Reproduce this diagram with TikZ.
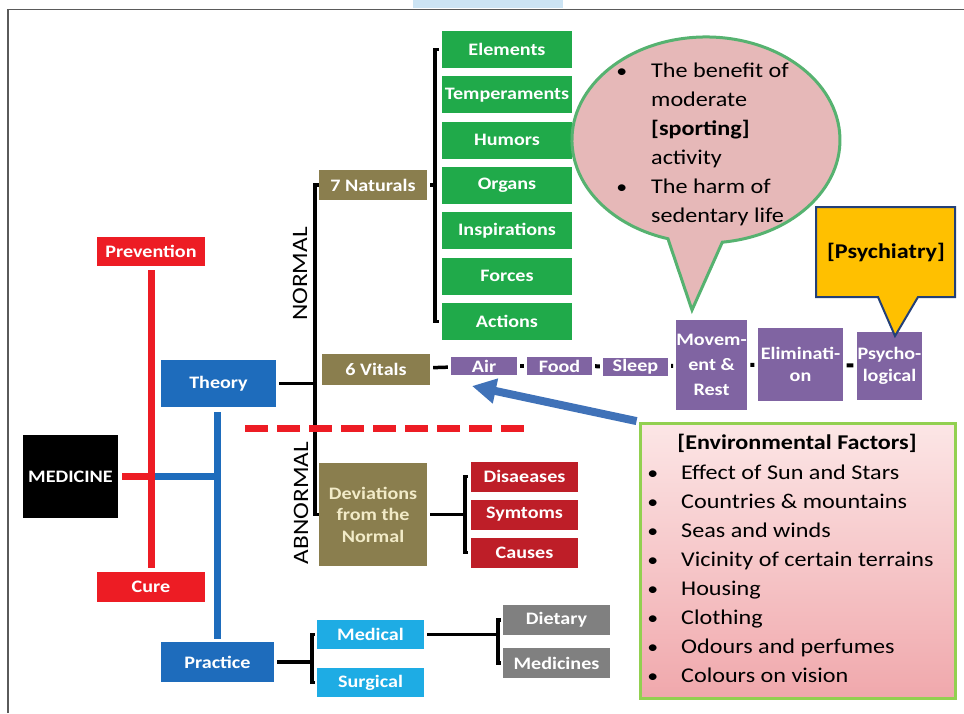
\documentclass[tikz,border=0pt]{standalone}
\usepackage{fontspec}
\setmainfont{Carlito}[FakeStretch=1.15]
\usetikzlibrary{arrows.meta}

\definecolor{medred}{RGB}{237,28,36}
\definecolor{medblue}{RGB}{30,108,188}
\definecolor{natbrown}{RGB}{138,126,78}
\definecolor{natgreen}{RGB}{32,170,74}
\definecolor{darkred}{RGB}{190,30,40}
\definecolor{skyblue}{RGB}{30,172,228}
\definecolor{boxgray}{RGB}{128,128,128}
\definecolor{vitpurple}{RGB}{128,100,162}
\definecolor{bubblepink}{RGB}{230,184,184}
\definecolor{bubblegreen}{RGB}{86,178,112}
\definecolor{psyyellow}{RGB}{255,192,0}
\definecolor{psyblue}{RGB}{35,64,120}
\definecolor{envtop}{RGB}{252,230,230}
\definecolor{envbottom}{RGB}{240,168,172}
\definecolor{envgreen}{RGB}{146,208,80}
\definecolor{arrowblue}{RGB}{64,114,184}
\definecolor{creamtext}{RGB}{242,235,200}
\definecolor{framegray}{RGB}{90,90,90}
\definecolor{topblue}{RGB}{204,228,244}

\newcommand{\dotitem}[1]{\llap{{\fontsize{19}{19}\selectfont\textbullet}\hspace{#1}}}

\begin{document}
\begin{tikzpicture}[x=1pt,y=-1pt,
	box/.style={rectangle, inner sep=0pt, text=white, align=center,
		font=\fontsize{17.5}{21.5}\selectfont\bfseries},
	sz/.style 2 args={minimum width=#1, minimum height=#2},
	bline/.style={line width=3.5, black},
	link/.style={line width=4, black, shorten <=3, shorten >=3},
	bigtext/.style={font=\fontsize{21}{29}\selectfont}]
	\useasboundingbox (0,0) rectangle (964,713);
	% frame
	\fill[topblue] (413,0) rectangle (563,8);
	\draw[framegray, line width=1.5] (8,713) -- (8,9.5) -- (964,9.5);
	% left column
	\node[box, fill=black, sz={95}{83}] (medicine) at (70.5,476.5) {MEDICINE};
	\node[box, fill=medred, sz={108}{29}] (prevention) at (151,251.5) {Prevention};
	\node[box, fill=medred, sz={108}{30}] (cure) at (151,587) {Cure};
	\node[box, fill=medblue, sz={115}{47}] (theory) at (218.5,383.5) {Theory};
	\node[box, fill=medblue, sz={113}{40}] (practice) at (217.5,662) {Practice};
	\draw[medblue, line width=7, shorten <=5, shorten >=3] (theory.south -| practice.north) -- (practice.north);
	\draw[medblue, line width=7] (medicine.east -| prevention.south) -- (medicine.east -| practice.north);
	\draw[medred, line width=7, shorten <=4, shorten >=4] (prevention) -- (cure);
	\draw[medred, line width=7, shorten <=4] (medicine.east) -- (medicine.east -| prevention.south);
	% normal / abnormal
	\node[box, fill=natbrown, sz={108}{30}] (naturals) at (373,185) {7 Naturals};
	\node[box, fill=natbrown, sz={108}{31}] (vitals) at (376,369.5) {6 Vitals};
	\node[box, fill=natbrown, text=creamtext, sz={108}{103}] (deviations) at (373,514.5) {Deviations\\from the\\Normal};
	\coordinate (spine) at (315,0);
	\draw[bline] (naturals.west) -- (naturals.west -| spine) -- (deviations.west -| spine) -- (deviations.west);
	\draw[bline, shorten <=3] (theory.east) -- (theory.east -| spine);
	\node[rotate=90, font=\fontsize{22}{24}\selectfont] (normal) at (300,274) {NORMAL};
	\node[rotate=90, font=\fontsize{22}{24}\selectfont] (abnormal) at (301,503) {ABNORMAL};
	\draw[medred, line width=7, dash pattern=on 23 off 9] (245,428) -- (525,428);
	% 7 naturals
	\foreach \organ [count=\i from 0] in {Elements,Temperaments,Humors,Organs,Inspirations,Forces,Actions}
		\node[box, fill=natgreen, sz={130}{37}] (nat\i) at (507,49.5+45.33*\i) {\organ};
	\coordinate (natbar) at ([xshift=-7]nat3.west);
	\draw[bline] ([xshift=-3]nat0.west) -- ([xshift=-7]nat0.west) -- ([xshift=-7]nat6.west) -- ([xshift=-3]nat6.west);
	\draw[bline, shorten <=3] (naturals.east) -- (naturals.east -| natbar);
	% 6 vitals
	\node[box, fill=vitpurple, sz={66}{18}] (air) at (484,366) {Air};
	\node[box, fill=vitpurple, sz={65}{18}] (food) at (559.5,366) {Food};
	\node[box, fill=vitpurple, sz={65}{18}] (sleep) at (635.5,366.5) {Sleep};
	\node[box, fill=vitpurple, sz={65}{90}, font=\fontsize{17.5}{25}\selectfont\bfseries] (movement) at (711.5,365) {Movem-\\ent \&\\Rest};
	\node[box, fill=vitpurple, sz={85}{73}] (elimination) at (800.5,364.5) {Eliminati-\\on};
	\node[box, fill=vitpurple, sz={65}{68}] (psycho) at (889.5,366) {Psycho-\\logical};
	\draw[bline, shorten <=3, shorten >=3] (vitals) -- (air);
	\draw[link] (air) -- (food);
	\draw[link] (food) -- (sleep);
	\draw[link] (sleep) -- (movement);
	\draw[link, shorten <=3.5, shorten >=3.5] (movement) -- (elimination);
	\draw[link, shorten <=3.5, shorten >=3.5] (elimination) -- (psycho);
	% deviations
	\foreach \sign [count=\i from 0] in {Disaeases,Symtoms,Causes}
		\node[box, fill=darkred, sz={107}{30}] (abn\i) at (524.5,476.5+38*\i) {\sign};
	\coordinate (abnbar) at ([xshift=-6]abn1.west);
	\draw[bline] ([xshift=-3]abn0.west) -- ([xshift=-6]abn0.west) -- ([xshift=-6]abn2.west) -- ([xshift=-3]abn2.west);
	\draw[bline, shorten <=3] (deviations.east) -- (deviations.east -| abnbar);
	% practice
	\node[box, fill=skyblue, sz={107}{29}] (medical) at (370.5,634.5) {Medical};
	\node[box, fill=skyblue, sz={107}{29}] (surgical) at (370.5,682.5) {Surgical};
	\node[box, fill=boxgray, sz={107}{30}] (dietary) at (556.5,620) {Dietary};
	\node[box, fill=boxgray, sz={107}{30}] (medicines) at (556.5,663) {Medicines};
	\coordinate (pracbar) at ([xshift=-5]medical.west);
	\draw[bline] ([xshift=-2]medical.west) -- ([xshift=-5]medical.west) -- ([xshift=-5]surgical.west) -- ([xshift=-2]surgical.west);
	\draw[bline, shorten <=3] (practice.east) -- (practice.east -| pracbar);
	\coordinate (medbar) at ([xshift=-5]dietary.west);
	\draw[bline] ([xshift=-2]dietary.west) -- ([xshift=-5]dietary.west) -- ([xshift=-5]medicines.west) -- ([xshift=-2]medicines.west);
	\draw[bline, shorten <=3] (medical.east) -- (medical.east -| medbar);
	% bubble over movement
	\draw[bubblegreen, line width=3, fill=bubblepink] (692,310) -- (722.3,242.2)
		arc[start angle=83, end angle=-253.5, x radius=134, y radius=103] -- cycle;
	\node[bigtext, anchor=west, align=left, inner sep=0] (bubbletext) at (651,144.6)
		{\dotitem{24pt}The benefit of\\moderate\\\textbf{[sporting]}\\activity\\
		\dotitem{24pt}The harm of\\sedentary life};
	% psychiatry callout
	\draw[psyblue, line width=2, fill=psyyellow] (816,207) -- (955,207) -- (955,297) -- (918,297)
		-- (895,336) -- (878,297) -- (816,297) -- cycle;
	\node[bigtext, font=\fontsize{21}{24}\selectfont\bfseries] (psychiatry) at (886,252) {[Psychiatry]};
	% environmental factors
	\node[draw=envgreen, line width=3, top color=envtop, bottom color=envbottom,
		minimum width=315, minimum height=275, inner sep=0] (env) at (797.5,560.5) {};
	\coordinate (envtip) at (472,386);
	\draw[arrowblue, line width=8, shorten <=2, -{Triangle[length=24,width=24]}] (env.north west) -- (envtip);
	\node[bigtext, font=\fontsize{21}{24}\selectfont\bfseries] (envtitle) at (797,443) {[Environmental Factors]};
	\foreach \factor [count=\i] in {Effect of Sun and Stars,Countries \& mountains,Seas and winds,
		Vicinity of certain terrains,Housing,Clothing,Odours and perfumes,Colours on vision}
		\node[bigtext, anchor=base west, inner sep=0] (factor\i) at (681,450+29*\i)
			{\dotitem{23pt}\factor};
\end{tikzpicture}
\end{document}
